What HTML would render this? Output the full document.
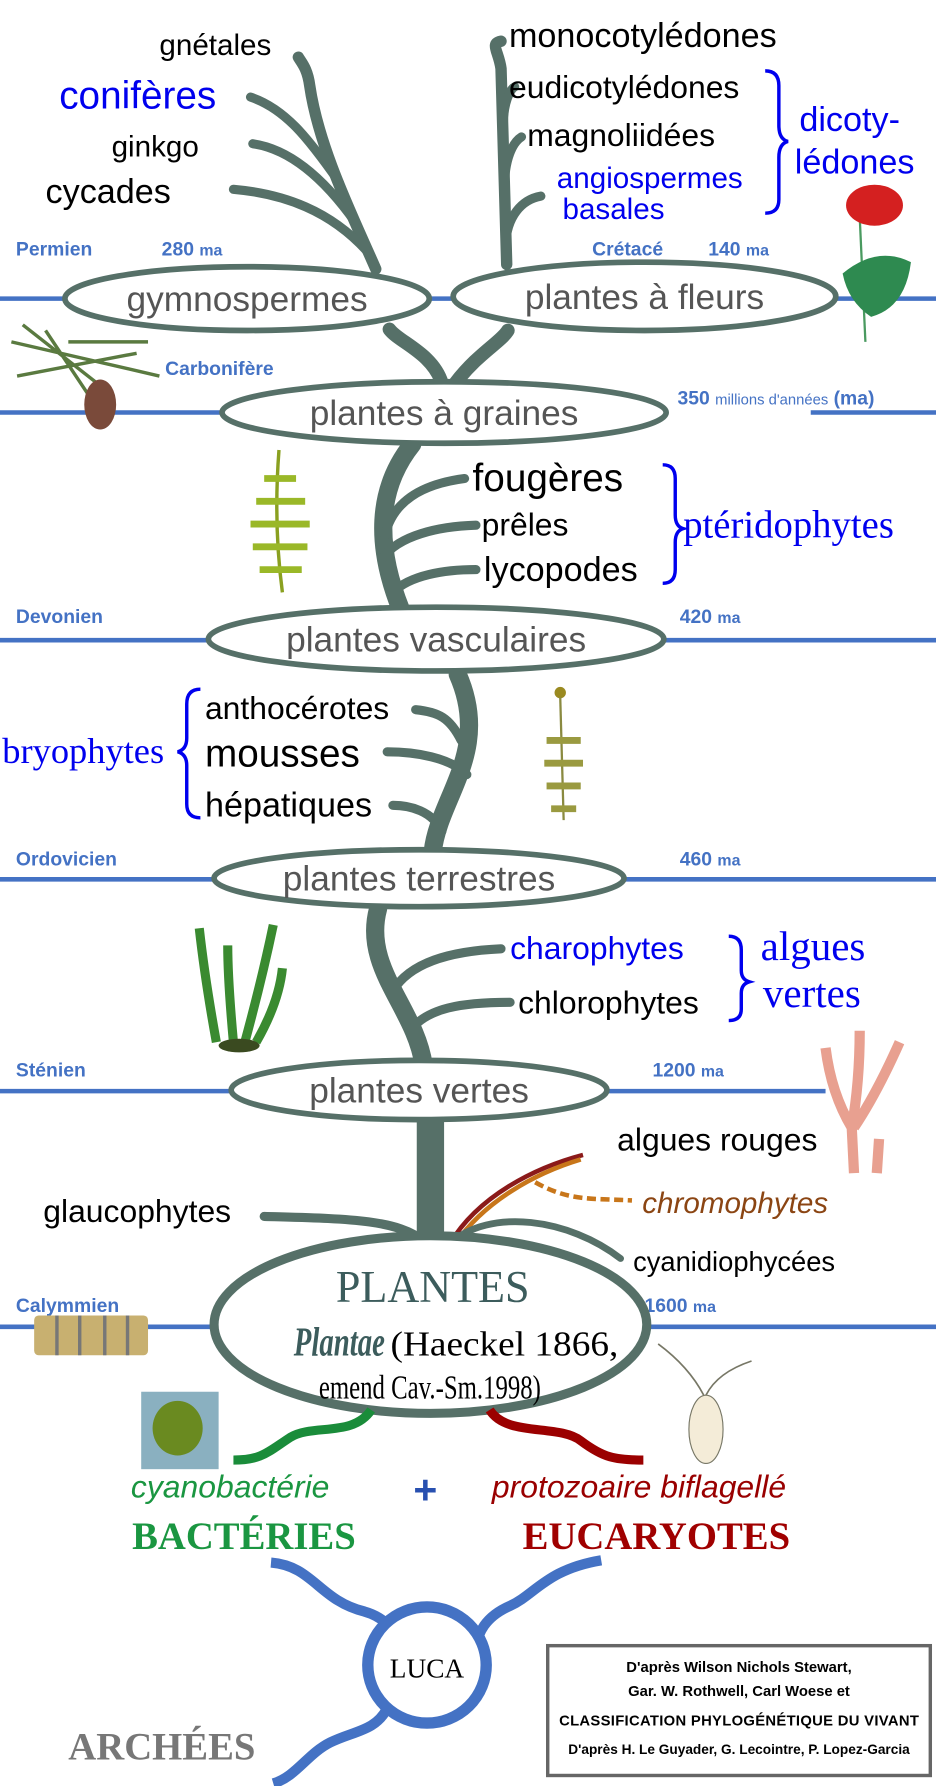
<!DOCTYPE html>
<html><head><meta charset="utf-8"><style>
html,body{margin:0;padding:0;background:#fff;width:936px;height:1786px;overflow:hidden}
svg{display:block}
text{font-family:"Liberation Sans",sans-serif}
.per{fill:#4472c4;font-weight:bold;font-size:17px}
.ell{fill:#fff;stroke:#567068;stroke-width:5}
.et{fill:#555;font-size:31px}
.tr{fill:none;stroke:#567068;stroke-linecap:round}
.tl{stroke:#4472c4;stroke-width:4}
.lab{fill:#000}
.blue{fill:#0000ee}
.serif{font-family:"Liberation Serif",serif}
.br{fill:none;stroke:#0000ee;stroke-width:3}
</style></head><body>
<svg width="936" height="1786" viewBox="0 0 822 1568" xmlns="http://www.w3.org/2000/svg">
<g>
<line class="tl" x1="0" y1="262" x2="60" y2="262"/><line class="tl" x1="375" y1="262" x2="400" y2="262"/><line class="tl" x1="735" y1="262" x2="822" y2="262"/>
<line class="tl" x1="0" y1="362" x2="195" y2="362"/><line class="tl" x1="712" y1="362" x2="822" y2="362"/>
<line class="tl" x1="0" y1="562" x2="185" y2="562"/><line class="tl" x1="580" y1="562" x2="822" y2="562"/>
<line class="tl" x1="0" y1="772" x2="190" y2="772"/><line class="tl" x1="545" y1="772" x2="822" y2="772"/>
<line class="tl" x1="0" y1="958" x2="205" y2="958"/><line class="tl" x1="530" y1="958" x2="725" y2="958"/>
<line class="tl" x1="0" y1="1165" x2="190" y2="1165"/><line class="tl" x1="568" y1="1165" x2="822" y2="1165"/>
</g>
<g>
<text class="per" x="14" y="224">Permien</text><text class="per" x="142" y="224">280 <tspan font-size="14">ma</tspan></text>
<text class="per" x="520" y="224">Crétacé</text><text class="per" x="622" y="224">140 <tspan font-size="14">ma</tspan></text>
<text class="per" x="145" y="329">Carbonifère</text>
<text class="per" x="595" y="355">350 <tspan font-size="13" font-weight="normal">millions d'années</tspan> (ma)</text>
<text class="per" x="14" y="547">Devonien</text><text class="per" x="597" y="547">420 <tspan font-size="14">ma</tspan></text>
<text class="per" x="14" y="760">Ordovicien</text><text class="per" x="597" y="760">460 <tspan font-size="14">ma</tspan></text>
<text class="per" x="14" y="945">Sténien</text><text class="per" x="573" y="945">1200 <tspan font-size="14">ma</tspan></text>
<text class="per" x="14" y="1152">Calymmien</text><text class="per" x="566" y="1152">1600 <tspan font-size="14">ma</tspan></text>
</g>
<g>
<path class="tr" stroke-width="24" d="M378,1095 L378,985"/>
<path class="tr" stroke-width="16" d="M372,935 C365,885 318,850 332,798"/>
<path class="tr" stroke-width="16" d="M380,748 C385,700 432,660 402,592"/>
<path class="tr" stroke-width="16" d="M352,535 C330,480 330,430 362,390"/>
<path class="tr" stroke-width="12" d="M388,336 C380,310 350,300 342,289"/>
<path class="tr" stroke-width="12" d="M400,336 C420,310 440,300 446,290"/>
<path class="tr" stroke-width="10" d="M330,236 C310,190 280,130 272,75 C270,60 265,55 262,50"/>
<path class="tr" stroke-width="8" d="M298,160 C270,120 250,95 220,85"/>
<path class="tr" stroke-width="8" d="M312,195 C280,150 250,130 222,126"/>
<path class="tr" stroke-width="8" d="M322,220 C290,185 250,170 205,166"/>
<path class="tr" stroke-width="10" d="M445,232 L440,60 C438,45 430,38 440,36"/>
<path class="tr" stroke-width="8" d="M442,110 C442,90 448,78 452,76"/>
<path class="tr" stroke-width="8" d="M443,165 C443,140 450,125 458,120"/>
<path class="tr" stroke-width="8" d="M444,215 C445,190 458,175 475,172"/>
<path class="tr" stroke-width="8" d="M338,470 C345,440 370,425 408,420"/>
<path class="tr" stroke-width="8" d="M336,490 C350,470 385,462 418,461"/>
<path class="tr" stroke-width="8" d="M345,520 C360,505 390,500 418,500"/>
<path class="tr" stroke-width="8" d="M405,650 C395,630 385,625 365,623"/>
<path class="tr" stroke-width="8" d="M410,680 C395,665 365,660 340,660"/>
<path class="tr" stroke-width="8" d="M388,730 C380,712 360,707 345,707"/>
<path class="tr" stroke-width="8" d="M345,870 C360,845 395,835 440,833"/>
<path class="tr" stroke-width="8" d="M360,905 C375,885 405,880 448,880"/>
<path class="tr" stroke-width="8" d="M372,1090 C350,1070 300,1070 232,1068"/>
<path fill="none" stroke="#8b1a1a" stroke-width="4" d="M395,1092 C420,1050 470,1025 512,1014"/>
<path fill="none" stroke="#c8761a" stroke-width="4" d="M400,1092 C425,1055 470,1030 510,1018"/>
<path fill="none" stroke="#c8761a" stroke-width="4" stroke-dasharray="8,4" d="M470,1038 C500,1055 520,1052 555,1054"/>
<path class="tr" stroke-width="6" d="M395,1092 C430,1060 500,1070 545,1105"/>
</g>
<g><ellipse class="ell" cx="217" cy="262" rx="160" ry="28"/><text class="et" x="217" y="273" text-anchor="middle">gymnospermes</text></g>
<g><ellipse class="ell" cx="566" cy="260" rx="168" ry="30"/><text class="et" x="566" y="271" text-anchor="middle">plantes à fleurs</text></g>
<g><ellipse class="ell" cx="390" cy="362" rx="195" ry="27"/><text class="et" x="390" y="373" text-anchor="middle">plantes à graines</text></g>
<g><ellipse class="ell" cx="383" cy="561" rx="200" ry="28"/><text class="et" x="383" y="572" text-anchor="middle">plantes vasculaires</text></g>
<g><ellipse class="ell" cx="368" cy="771" rx="180" ry="25"/><text class="et" x="368" y="782" text-anchor="middle">plantes terrestres</text></g>
<g><ellipse class="ell" cx="368" cy="957" rx="165" ry="26"/><text class="et" x="368" y="968" text-anchor="middle">plantes vertes</text></g>
<g>
<ellipse fill="#fff" stroke="#567068" stroke-width="8" cx="378" cy="1163" rx="190" ry="78"/>
<text class="serif" x="295" y="1143" font-size="40" fill="#3c5c5c" textLength="170" lengthAdjust="spacingAndGlyphs">PLANTES</text>
<text class="serif" x="258" y="1190" font-size="36" font-weight="bold" font-style="italic" fill="#3c5c5c" textLength="80" lengthAdjust="spacingAndGlyphs">Plantae</text>
<text class="serif" x="343" y="1190" font-size="31" textLength="200" lengthAdjust="spacingAndGlyphs">(Haeckel 1866,</text>
<text class="serif" x="280" y="1228" font-size="30" textLength="195" lengthAdjust="spacingAndGlyphs">emend Cav.-Sm.1998)</text>
</g>
<g>
<text class="lab" x="140" y="48" font-size="26">gnétales</text>
<text class="blue" x="52" y="95" font-size="34">conifères</text>
<text class="lab" x="98" y="137" font-size="26">ginkgo</text>
<text class="lab" x="40" y="178" font-size="30">cycades</text>
<text class="lab" x="447" y="41" font-size="30">monocotylédones</text>
<text class="lab" x="447" y="86" font-size="28">eudicotylédones</text>
<text class="lab" x="463" y="128" font-size="28">magnoliidées</text>
<text class="blue" x="489" y="165" font-size="26">angiospermes</text>
<text class="blue" x="494" y="192" font-size="26">basales</text>
<text class="blue" x="702" y="115" font-size="30">dicoty-</text>
<text class="blue" x="698" y="152" font-size="30">lédones</text>
<path class="br" d="M672,62 Q684,62 684,75 L684,110 Q684,122 692,124 Q684,126 684,138 L684,175 Q684,187 672,187"/>
<text class="lab" x="415" y="431" font-size="34">fougères</text>
<text class="lab" x="423" y="470" font-size="28">prêles</text>
<text class="lab" x="425" y="510" font-size="30">lycopodes</text>
<path class="br" d="M582,408 Q593,408 593,420 L593,452 Q593,462 600,464 Q593,466 593,476 L593,500 Q593,512 582,512"/>
<text class="blue serif" x="600" y="472" font-size="34">ptéridophytes</text>
<text class="lab" x="180" y="631" font-size="28">anthocérotes</text>
<text class="lab" x="180" y="673" font-size="34">mousses</text>
<text class="lab" x="180" y="717" font-size="30">hépatiques</text>
<path class="br" d="M176,605 Q164,605 164,618 L164,648 Q164,658 156,660 Q164,662 164,672 L164,706 Q164,718 176,718"/>
<text class="blue serif" x="2" y="670" font-size="32">bryophytes</text>
<text class="blue" x="448" y="842" font-size="28">charophytes</text>
<text class="lab" x="455" y="890" font-size="28">chlorophytes</text>
<path class="br" d="M640,822 Q651,822 651,834 L651,852 Q651,860 658,862 Q651,864 651,872 L651,886 Q651,896 640,896"/>
<text class="blue serif" x="668" y="843" font-size="36">algues</text>
<text class="blue serif" x="670" y="884" font-size="36">vertes</text>
<text class="lab" x="542" y="1010" font-size="28">algues rouges</text>
<text x="564" y="1065" font-size="26" font-style="italic" fill="#8b4513">chromophytes</text>
<text class="lab" x="38" y="1073" font-size="28">glaucophytes</text>
<text class="lab" x="556" y="1116" font-size="24">cyanidiophycées</text>
</g>
<g>
<path fill="none" stroke="#1a8c3a" stroke-width="8" d="M326,1238 C310,1262 275,1250 255,1262 C235,1275 230,1282 205,1282"/>
<path fill="none" stroke="#9b0000" stroke-width="8" d="M430,1238 C445,1262 490,1250 510,1265 C530,1280 540,1282 565,1282"/>
<path fill="none" stroke="#4472c4" stroke-width="9" d="M238,1372 C275,1375 280,1405 320,1415 C345,1422 348,1440 350,1445"/>
<path fill="none" stroke="#4472c4" stroke-width="9" d="M528,1370 C480,1378 470,1400 448,1410 C425,1420 420,1435 418,1445"/>
<path fill="none" stroke="#4472c4" stroke-width="9" d="M340,1500 C330,1520 310,1520 290,1530 C270,1540 260,1560 240,1566"/>
<ellipse fill="#fff" stroke="#4472c4" stroke-width="10" cx="375" cy="1462" rx="52" ry="51"/>
<text class="serif" x="375" y="1473" text-anchor="middle" font-size="24">LUCA</text>
</g>
<g>
<text x="115" y="1315" font-size="28" font-style="italic" fill="#1a9641">cyanobactérie</text>
<text x="363" y="1320" font-size="36" fill="#2850b0" font-weight="bold">+</text>
<text x="432" y="1315" font-size="28" font-style="italic" fill="#990000">protozoaire biflagellé</text>
<text class="serif" x="116" y="1360" font-size="34" font-weight="bold" fill="#1a9641">BACTÉRIES</text>
<text class="serif" x="459" y="1360" font-size="34" font-weight="bold" fill="#a00000">EUCARYOTES</text>
<text class="serif" x="60" y="1545" font-size="34" font-weight="bold" fill="#777">ARCHÉES</text>
</g>
<g>
<rect x="481" y="1445" width="336" height="114" fill="#fff" stroke="#666" stroke-width="3"/>
<text x="649" y="1468" text-anchor="middle" font-size="13" font-weight="bold">D'après Wilson Nichols Stewart,</text>
<text x="649" y="1489" text-anchor="middle" font-size="13" font-weight="bold">Gar. W. Rothwell, Carl Woese et</text>
<text x="649" y="1515" text-anchor="middle" font-size="13" font-weight="bold" textLength="316">CLASSIFICATION PHYLOGÉNÉTIQUE DU VIVANT</text>
<text x="649" y="1540" text-anchor="middle" font-size="12" font-weight="bold">D'après H. Le Guyader, G. Lecointre, P. Lopez-Garcia</text>
</g>
<g>
<g><path d="M10,300 L140,330 M20,285 L90,340 M15,330 L120,310 M40,290 L80,350 M60,300 L130,300" stroke="#5a7a40" stroke-width="3"/><ellipse cx="88" cy="355" rx="14" ry="22" fill="#7a4a3a"/></g>
<g><line x1="755" y1="190" x2="760" y2="300" stroke="#4a9a60" stroke-width="2"/><ellipse cx="768" cy="180" rx="25" ry="18" fill="#d42020"/><path d="M740,240 Q770,215 800,230 Q795,270 765,278 Q745,265 740,240Z" fill="#2e8a50"/></g>
<g><path d="M245,395 Q240,460 248,520" stroke="#8aa020" stroke-width="3" fill="none"/><path d="M232,420 L260,420 M225,440 L268,440 M220,460 L272,460 M222,480 L270,480 M228,500 L265,500" stroke="#9ab828" stroke-width="6"/></g>
<g><circle cx="492" cy="608" r="5" fill="#9a8a20"/><path d="M492,612 L495,720" stroke="#8a8a40" stroke-width="2"/><path d="M480,650 L510,650 M478,670 L512,670 M480,690 L510,690 M484,710 L506,710" stroke="#9a9a40" stroke-width="6"/></g>
<g><path d="M190,915 Q180,860 175,815 M205,915 Q200,860 200,830 M215,915 Q230,860 240,812 M225,915 Q245,880 248,850" stroke="#3a8a30" stroke-width="8" fill="none"/><ellipse cx="210" cy="918" rx="18" ry="6" fill="#3a4a20"/></g>
<g><path d="M750,1030 L748,990 Q730,960 725,920 M750,990 Q770,960 790,915 M748,990 Q755,950 755,905 M770,1030 L772,1000" stroke="#e8a090" stroke-width="9" fill="none"/></g>
<g><rect x="30" y="1155" width="100" height="35" fill="#c8b070" rx="4"/><path d="M50,1155 V1190 M70,1155 V1190 M92,1155 V1190 M112,1155 V1190" stroke="#777" stroke-width="3"/></g>
<g><rect x="124" y="1222" width="68" height="68" fill="#8ab0c0"/><ellipse cx="156" cy="1254" rx="22" ry="24" fill="#6a8a20"/></g>
<g><path d="M578,1180 Q605,1200 618,1225 M660,1195 Q630,1205 620,1225" stroke="#776" stroke-width="1.5" fill="none"/><ellipse cx="620" cy="1255" rx="15" ry="30" fill="#f4ecd8" stroke="#776"/></g>
</g>
</svg>
</body></html>
